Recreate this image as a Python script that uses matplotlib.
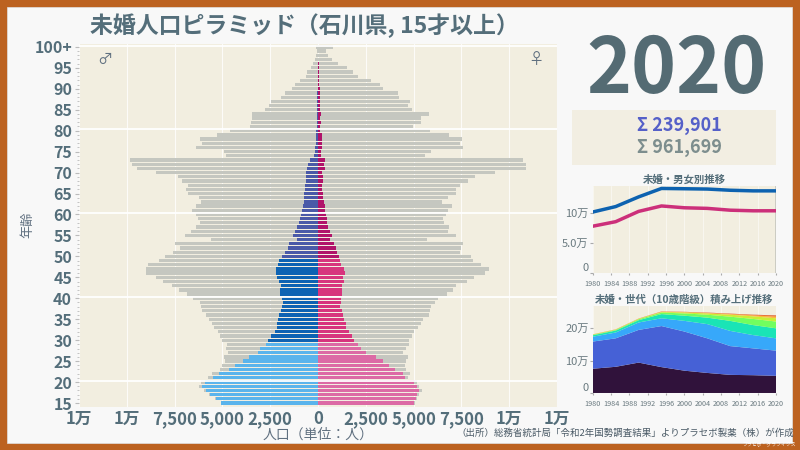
import numpy as np
import matplotlib
matplotlib.use("Agg")
import matplotlib.pyplot as plt
from matplotlib.patches import Rectangle

plt.rcParams['font.family'] = ['Noto Sans CJK JP', 'DejaVu Sans']

# ---- pyramid data (ages 15..99, 100+) ----
ages = list(range(15, 101))
age_tick_labels = ["15", "20", "25", "30", "35", "40", "45", "50", "55", "60",
                   "65", "70", "75", "80", "85", "90", "95", "100+"]

male_total = [5100, 5400, 5700, 5950, 6210, 6140, 5780, 5550, 5130, 5010,
              4890, 4900, 4710, 4820, 4750, 5010, 5110, 5220, 5460, 5530,
              5690, 5860, 6060, 6140, 6160, 6530, 6840, 7290, 7640, 8120,
              8500, 8990, 9020, 8880, 8340, 7980, 7560, 7240, 7470, 5600,
              6960, 6630, 6400, 6160, 6280, 6400, 6580, 6370, 6110, 6210,
              6810, 6890, 6790, 7120, 7310, 8450, 9460, 9720, 9830, 4820,
              4900, 6390, 6060, 6180, 5290, 4590, 3580, 3510, 3440, 3470,
              2790, 2580, 2440, 1950, 1710, 1340, 1200, 940, 630, 560,
              350, 240, 160, 100, 70, 120]
male_unmarried = [5050, 5340, 5650, 5860, 6060, 5920, 5500, 5170, 4640, 4330,
                  3910, 3600, 3160, 3020, 2710, 2600, 2440, 2250, 2130, 2130,
                  2080, 2020, 1940, 1880, 1830, 1870, 2010, 1970, 1940, 2040,
                  2160, 2180, 2180, 2110, 2060, 1900, 1710, 1570, 1500, 1120,
                  1310, 1200, 1120, 980, 940, 910, 840, 800, 720, 720,
                  750, 660, 660, 650, 630, 650, 560, 510, 440, 190,
                  170, 170, 120, 120, 100, 120, 80, 70, 60, 60,
                  50, 40, 40, 30, 30, 20, 20, 15, 10, 10,
                  5, 5, 4, 3, 2, 5]
female_total = [5080, 5200, 5270, 5420, 5270, 5180, 4710, 4830, 4620, 4570,
                4620, 4690, 4420, 4620, 4780, 4780, 4940, 5040, 5220, 5360,
                5500, 5790, 5880, 5920, 6110, 6280, 6720, 7070, 7230, 7770,
                8150, 8730, 8950, 8530, 8120, 7980, 7450, 7490, 7590, 5710,
                7240, 6790, 6860, 6580, 6560, 6670, 6790, 7030, 6460, 6820,
                7210, 7190, 7400, 7840, 8220, 9230, 10870, 10860, 10720, 5620,
                5920, 7560, 7450, 7540, 6860, 5860, 4990, 5410, 5360, 5780,
                4890, 4730, 4800, 4240, 4190, 3390, 3230, 2770, 2110, 1830,
                1500, 1030, 750, 540, 440, 790]
female_unmarried = [5030, 5140, 5200, 5300, 5170, 5030, 4540, 4430, 4050, 3720,
                    3390, 3050, 2510, 2230, 2090, 1880, 1750, 1620, 1470, 1450,
                    1360, 1310, 1270, 1150, 1220, 1220, 1260, 1240, 1260, 1340,
                    1330, 1410, 1360, 1220, 1170, 1100, 990, 960, 860, 630,
                    720, 610, 540, 470, 470, 440, 370, 380, 310, 280,
                    240, 230, 230, 240, 280, 230, 370, 330, 350, 170,
                    170, 230, 210, 230, 210, 120, 120, 130, 120, 160,
                    120, 120, 120, 100, 100, 80, 70, 60, 50, 50,
                    40, 30, 20, 20, 10, 20]

x_ticks = [-12500, -10000, -7500, -5000, -2500, 0, 2500, 5000, 7500, 10000, 12500]
x_tick_labels = ["1万", "1万", "7,500", "5,000", "2,500", "0",
                 "2,500", "5,000", "7,500", "1万", "1万"]

# ---- trend data ----
years = [1980, 1985, 1990, 1995, 2000, 2005, 2010, 2015, 2020]
male_trend = [101000, 110000, 126000, 140000, 139500, 139000, 137000, 136000, 136000]
female_trend = [77500, 85000, 102000, 111000, 108000, 107000, 104000, 103000, 103000]

group_labels = ["15-19", "20-29", "30-39", "40-49", "50-59",
                "60-69", "70-79", "80-89", "90-99", "100+"]
g15 = [75000, 81000, 94000, 80000, 69000, 62000, 56000, 55000, 53000]
g20 = [84000, 88000, 101000, 127000, 121000, 107000, 89000, 83000, 78000]
g30 = [15000, 18000, 23000, 24000, 33000, 44000, 47000, 41000, 38000]
g40 = [4500, 6000, 7000, 13000, 16000, 20000, 31000, 31000, 31000]
g50 = [1500, 2000, 3000, 4500, 7000, 9000, 13000, 19000, 21000]
g60 = [700, 1000, 1200, 2000, 3000, 4000, 6000, 8000, 10000]
g70 = [400, 500, 600, 1000, 1200, 1500, 2000, 3000, 5000]
g80 = [200, 200, 300, 500, 600, 800, 1000, 1500, 3000]
g90 = [50, 100, 100, 200, 200, 300, 400, 500, 1000]
g100 = [0, 0, 0, 0, 10, 20, 30, 50, 100]

title_color = "#546e7a"
bg_beige = "#f2eee0"
gray_bar = "#c5c7c0"


def male_color(a):
    if a < 30:
        return "#5ab4ec"
    if a < 50:
        return "#0e63b3"
    return "#4a5aa8"


def female_color(a):
    if a < 30:
        return "#dc6aa5"
    if a < 50:
        return "#d7347d"
    return "#b0136a"


fig = plt.figure(figsize=(8, 4.5), dpi=100)
fig.patch.set_facecolor("#bc6220")
fig.add_artist(Rectangle((7 / 800, 7 / 450), 785 / 800, 436 / 450,
                         transform=fig.transFigure, facecolor="#f8f8f8",
                         edgecolor="#e0e0e0", lw=0.5, zorder=0))

# ---- pyramid ----
ax = fig.add_axes([0.0988, 0.0956, 0.5975, 0.8067])
ax.set_facecolor(bg_beige)
ages_arr = np.array(ages)
h = 0.78
ax.barh(ages_arr, -np.array(male_total), height=h, color=gray_bar, zorder=2)
ax.barh(ages_arr, female_total, height=h, color=gray_bar, zorder=2)
ax.barh(ages_arr, -np.array(male_unmarried), height=h,
        color=[male_color(a) for a in ages], zorder=3)
ax.barh(ages_arr, female_unmarried, height=h,
        color=[female_color(a) for a in ages], zorder=3)

for yv in [20, 40, 60, 80, 100]:
    ax.axhline(yv + 0.3, color="white", lw=1.3, zorder=4)
for xv in x_ticks:
    ax.axvline(xv, color="white", lw=0.8, alpha=0.8, zorder=1)

ax.set_xlim(-12500, 12500)
ax.set_ylim(14.05, 100.7)
ax.set_xticks(x_ticks)
ax.set_xticklabels(x_tick_labels, fontsize=12, fontweight="bold", color=title_color)
ax.set_yticks(list(range(15, 101, 5)))
ax.set_yticklabels(age_tick_labels, fontsize=11.5, fontweight="bold", color=title_color)
ax.set_yticks(ages, minor=True)
ax.tick_params(axis="y", which="major", length=3, color="#bbbbbb", pad=2)
ax.tick_params(axis="y", which="minor", length=1.5, color="#bbbbbb")
ax.tick_params(axis="x", length=0, pad=2)
for s in ax.spines.values():
    s.set_visible(False)
ax.set_xlabel("人口（単位：人）", fontsize=10, color="#607080", labelpad=0)
fig.text(0.035, 0.5, "年齢", rotation=90, fontsize=9.5, color="#607080",
         ha="center", va="center")
ax.text(-11150, 97, "♂", fontsize=11, color="#607080", ha="center", va="center")
ax.text(11400, 97, "♀", fontsize=11, color="#607080", ha="center", va="center")

fig.text(0.381, 0.942, "未婚人口ピラミッド（石川県, 15才以上）", fontsize=16.5,
         fontweight="bold", color=title_color, ha="center", va="center")

# ---- year and sums ----
fig.text(0.845, 0.843, "2020", fontsize=55, fontweight="bold", color="#546b73",
         ha="center", va="center")
fig.add_artist(Rectangle((572 / 800, 1 - 165 / 450), 204 / 800, 55 / 450,
                         transform=fig.transFigure, facecolor="#f2eee2",
                         edgecolor="none", zorder=1))
fig.text(0.849, 0.722, "Σ 239,901", fontsize=13, fontweight="bold",
         color="#5560c8", ha="center", va="center")
fig.text(0.849, 0.673, "Σ 961,699", fontsize=13, fontweight="bold",
         color="#7d8e8e", ha="center", va="center")

# ---- trend by sex ----
year_ticks = list(range(1980, 2021, 4))
ax1 = fig.add_axes([0.741, 0.3933, 0.229, 0.1933])
ax1.set_facecolor(bg_beige)
ax1.plot(years, male_trend, color="#0d62b0", lw=2.5, zorder=3)
ax1.plot(years, female_trend, color="#cc2f7a", lw=2.5, zorder=3)
ax1.axvline(2020, color="#c8c8c0", lw=2, zorder=2)
ax1.set_xlim(1980, 2020)
ax1.set_ylim(0, 144000)
ax1.set_yticks([0, 50000, 100000])
ax1.set_yticklabels(["0", "5.0万", "10万"], fontsize=8, color="#6a7a80")
ax1.set_title("未婚・男女別推移", fontsize=7.5, fontweight="bold",
              color=title_color, pad=2)

# ---- stacked by age group ----
ax2 = fig.add_axes([0.741, 0.1267, 0.229, 0.1933])
ax2.set_facecolor(bg_beige)
stack_colors = plt.cm.turbo(np.linspace(0, 1, len(group_labels)))
ax2.stackplot(years, g15, g20, g30, g40, g50, g60, g70, g80, g90, g100,
              colors=stack_colors, labels=group_labels, zorder=3)
ax2.set_xlim(1980, 2020)
ax2.set_ylim(0, 269000)
ax2.set_yticks([0, 100000, 200000])
ax2.set_yticklabels(["0", "10万", "20万"], fontsize=8, color="#6a7a80")
ax2.set_title("未婚・世代（10歳階級）積み上げ推移", fontsize=7.5, fontweight="bold",
              color=title_color, pad=2)

for a in (ax1, ax2):
    a.set_xticks(year_ticks)
    a.set_xticklabels([str(y) for y in year_ticks], fontsize=5.2, color="#6a7a80")
    a.tick_params(axis="x", length=1.5, pad=3.5, color="#aaaaaa")
    a.tick_params(axis="y", length=2, pad=1, color="#aaaaaa")
    a.get_yticklabels()[0].set_va("bottom")
    for xv in year_ticks:
        a.axvline(xv, color="white", lw=0.5, alpha=0.7, zorder=1)
    for s in a.spines.values():
        s.set_visible(False)

fig.text(0.993, 0.038, "（出所）総務省統計局「令和2年国勢調査結果」よりプラセボ製薬（株）が作成",
         fontsize=6.8, color="#4a5a66", ha="right", va="center")
fig.text(0.995, 0.006, "プラセボ・グラフィクス", fontsize=3.5, color="white",
         ha="right", va="bottom")

fig.savefig("out.png", dpi=100, facecolor=fig.get_facecolor())
